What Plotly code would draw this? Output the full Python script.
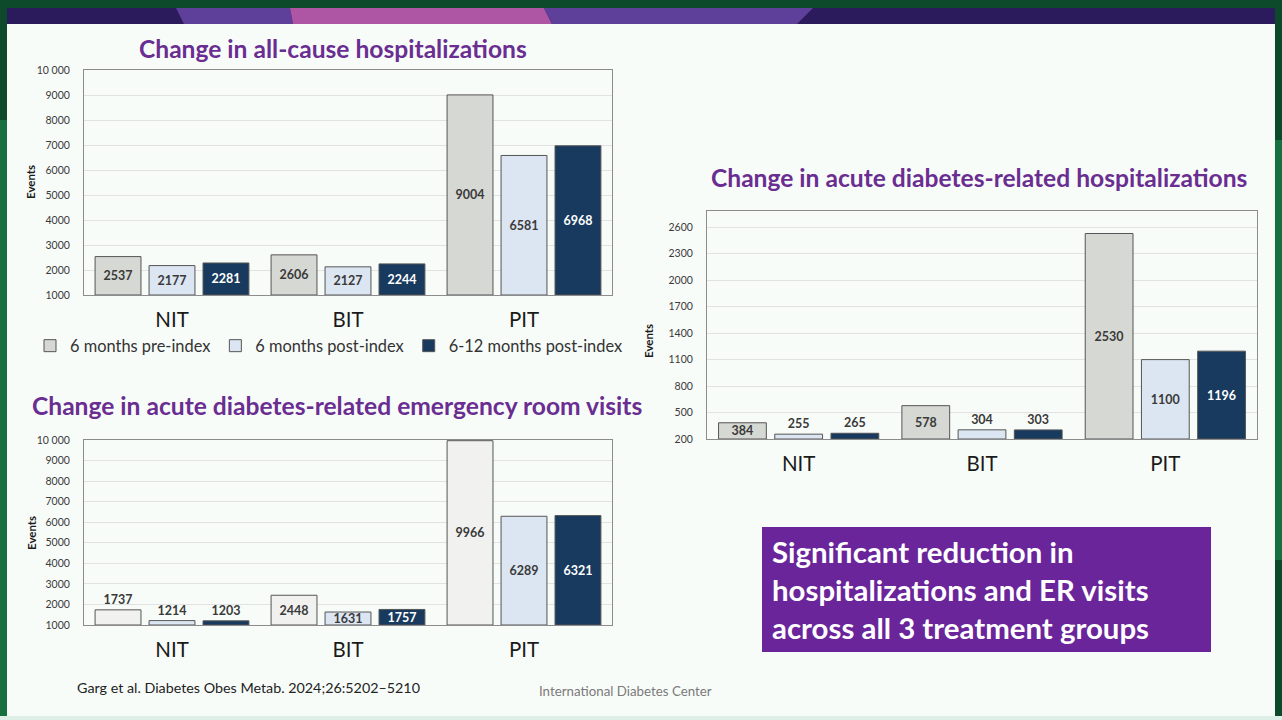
import plotly.graph_objects as go

W, H = 1282, 720

groups = ["NIT", "BIT", "PIT"]
series_names = ["6 months pre-index", "6 months post-index", "6-12 months post-index"]

# all-cause hospitalizations
allcause_pre = [2537, 2606, 9004]
allcause_post = [2177, 2127, 6581]
allcause_late = [2281, 2244, 6968]

# acute diabetes-related emergency room visits
er_pre = [1737, 2448, 9966]
er_post = [1214, 1631, 6289]
er_late = [1203, 1757, 6321]

# acute diabetes-related hospitalizations
acute_pre = [384, 578, 2530]
acute_post = [255, 304, 1100]
acute_late = [265, 303, 1196]

big_tickvals = [1000, 2000, 3000, 4000, 5000, 6000, 7000, 8000, 9000, 10000]
big_ticktext = ["1000", "2000", "3000", "4000", "5000", "6000", "7000", "8000", "9000", "10 000"]
small_tickvals = [200, 500, 800, 1100, 1400, 1700, 2000, 2300, 2600]


def px(x):
    return x / W


def py(y):
    return 1 - y / H


FONT = "Lato"
PURPLE = "#6A2D91"
POST = "#DCE6F2"
NAVY = "#173A5E"

fig = go.Figure()


def add_chart(values, axis_min, xa, ya, pre_color, positions, legend):
    # bars start at the bottom of the value axis, as in the original slide
    colors = [pre_color, POST, NAVY]
    for k in range(3):
        fig.add_trace(go.Bar(
            x=groups, y=[v - axis_min for v in values[k]], base=axis_min,
            name=series_names[k], xaxis=xa, yaxis=ya,
            marker=dict(color=colors[k], line=dict(color="#555555", width=1)),
            text=values[k], textposition=positions[k], textangle=0,
            insidetextanchor="middle", constraintext="none",
            insidetextfont=dict(family=FONT, size=12.5, weight="bold",
                                color="white" if k == 2 else "#3a3a3a"),
            outsidetextfont=dict(family=FONT, size=12.5, weight="bold", color="#3a3a3a"),
            legendgroup=series_names[k], showlegend=legend,
            hoverinfo="skip",
        ))


add_chart([allcause_pre, allcause_post, allcause_late], 1000, "x", "y", "#D6D8D3",
          ["inside", "inside", "inside"], True)
add_chart([er_pre, er_post, er_late], 1000, "x2", "y2", "#F1F2EF",
          [["outside", "inside", "inside"], ["outside", "inside", "inside"],
           ["outside", "inside", "inside"]], False)
add_chart([acute_pre, acute_post, acute_late], 200, "x3", "y3", "#D6D8D3",
          [["inside", "inside", "inside"], ["outside", "outside", "inside"],
           ["outside", "outside", "inside"]], False)

xcommon = dict(showgrid=False, showline=True, linecolor="#8c8c8c", mirror=True,
               ticks="", tickfont=dict(family=FONT, size=20.5, color="#1a1a1a"),
               ticklabelstandoff=6, fixedrange=True)
ycommon = dict(showgrid=True, gridcolor="#e2e2e2", gridwidth=1, showline=True,
               linecolor="#8c8c8c", mirror=True, zeroline=False, ticks="",
               tickfont=dict(family=FONT, size=10.5, color="#3a3a3a"),
               ticklabelstandoff=11, fixedrange=True)

fig.update_layout(
    xaxis=dict(xcommon, domain=[px(84), px(612)], anchor="y"),
    yaxis=dict(ycommon, domain=[py(295), py(70)], anchor="x", range=[1000, 10000],
               tickvals=big_tickvals, ticktext=big_ticktext),
    xaxis2=dict(xcommon, domain=[px(84), px(612)], anchor="y2"),
    yaxis2=dict(ycommon, domain=[py(625), py(440)], anchor="x2", range=[1000, 10000],
                tickvals=big_tickvals, ticktext=big_ticktext),
    xaxis3=dict(xcommon, domain=[px(707), px(1257)], anchor="y3"),
    yaxis3=dict(ycommon, domain=[py(439), py(211)], anchor="x3", range=[200, 2785],
                tickvals=small_tickvals),
    barmode="group", bargap=0.08, bargroupgap=0.15,
    autosize=False, width=W, height=H,
    margin=dict(l=0, r=0, t=0, b=0, autoexpand=False),
    paper_bgcolor="#0C4A2B", plot_bgcolor="white",
    font=dict(family=FONT, color="#333333"),
    showlegend=True,
    legend=dict(orientation="h", x=px(30), xanchor="left", y=py(346), yanchor="middle",
                font=dict(family=FONT, size=16.4, color="#333333"),
                bgcolor="rgba(0,0,0,0)", itemwidth=30, tracegroupgap=0),
)

# slide frame, background and banner
shapes = [
    dict(type="rect", xref="paper", yref="paper", x0=0, x1=px(7), y0=0, y1=py(120),
         fillcolor="#17703F", line=dict(width=0), layer="below"),
    dict(type="rect", xref="paper", yref="paper", x0=px(1275), x1=1, y0=py(560), y1=py(140),
         fillcolor="#17703F", line=dict(width=0), layer="below"),
    dict(type="rect", xref="paper", yref="paper", x0=0, x1=1, y0=0, y1=py(716),
         fillcolor="#DDEFE6", line=dict(width=0), layer="below"),
    dict(type="rect", xref="paper", yref="paper", x0=px(7), x1=px(1275), y0=py(716), y1=py(24),
         fillcolor="#F8FCF9", line=dict(width=0), layer="below"),
    dict(type="rect", xref="paper", yref="paper", x0=px(7), x1=px(1275), y0=py(24), y1=py(8),
         fillcolor="#2B1B5C", line=dict(width=0), layer="below"),
]
banner = [
    ([(176, 8), (290, 8), (293, 24), (184, 24)], "#5E3F99"),
    ([(290, 8), (544, 8), (552, 24), (293, 24)], "#AE55A3"),
    ([(544, 8), (813, 8), (797, 24), (552, 24)], "#5E3F99"),
]
for pts, col in banner:
    path = "M" + " L".join(f"{px(a):.5f},{py(b):.5f}" for a, b in pts) + " Z"
    shapes.append(dict(type="path", xref="paper", yref="paper", path=path,
                       fillcolor=col, line=dict(width=0), layer="below"))
shapes.append(dict(type="rect", xref="paper", yref="paper", x0=px(762), x1=px(1211),
                   y0=py(652), y1=py(527), fillcolor="#6A259A", line=dict(width=0)))
fig.update_layout(shapes=shapes)

titles = [
    ("Change in all-cause hospitalizations", 333, 49),
    ("Change in acute diabetes-related emergency room visits", 337, 405),
    ("Change in acute diabetes-related hospitalizations", 979, 177),
]
for txt, cx, cy in titles:
    fig.add_annotation(text=txt, xref="paper", yref="paper", x=px(cx), y=py(cy),
                       showarrow=False, xanchor="center", yanchor="middle",
                       font=dict(family=FONT, size=24.6, weight="bold", color=PURPLE))

# y-axis titles
for cx, cy in [(30, 182), (31, 533), (648, 341)]:
    fig.add_annotation(text="Events", xref="paper", yref="paper", x=px(cx), y=py(cy),
                       showarrow=False, textangle=-90, xanchor="center", yanchor="middle",
                       font=dict(family=FONT, size=11.5, weight="bold", color="#1a1a1a"))

box_lines = ["Significant reduction in", "hospitalizations and ER visits",
             "across all 3 treatment groups"]
for i, line in enumerate(box_lines):
    fig.add_annotation(text=line, xref="paper", yref="paper", x=px(770), y=py(551 + 38 * i),
                       showarrow=False, xanchor="left", yanchor="middle",
                       font=dict(family=FONT, size=29.4, weight="bold", color="white"))

fig.add_annotation(text="Garg et al. Diabetes Obes Metab. 2024;26:5202\u20135210",
                   xref="paper", yref="paper", x=px(75), y=py(687), showarrow=False,
                   xanchor="left", yanchor="middle",
                   font=dict(family=FONT, size=14.3, color="#222222"))
fig.add_annotation(text="International Diabetes Center", xref="paper", yref="paper",
                   x=px(537), y=py(691), showarrow=False, xanchor="left", yanchor="middle",
                   font=dict(family=FONT, size=13.3, color="#7a7a7a"))

fig.write_html(
    "out.html",
    config={"displayModeBar": False, "responsive": False},
    post_script=("document.body.style.margin='0';"
                 "var d=document.getElementById('{plot_id}');"
                 "d.style.position='fixed';d.style.left='0';d.style.top='0';"),
)
